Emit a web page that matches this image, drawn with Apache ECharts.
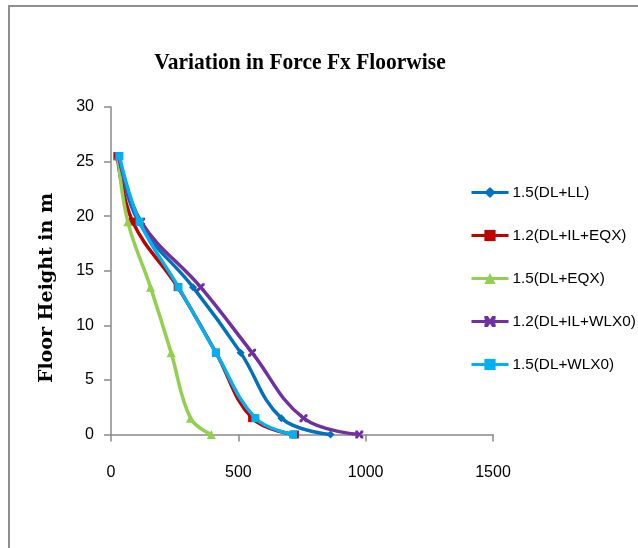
<!DOCTYPE html>
<html>
<head>
<meta charset="utf-8">
<script src="https://cdn.jsdelivr.net/npm/echarts@6/dist/echarts.min.js"></script>
<style>
html,body{margin:0;padding:0;background:#fff;}
#chart{width:638px;height:548px;}
</style>
</head>
<body>
<div id="chart"></div>
<script>
// Floor heights (m)
const floorHeights = [25.5, 19.5, 13.5, 7.5, 1.5, 0];
// Force Fx per load combination
const seriesNames = ['1.5(DL+LL)', '1.2(DL+IL+EQX)', '1.5(DL+EQX)', '1.2(DL+IL+WLX0)', '1.5(DL+WLX0)'];
const fxDlLl = [28, 108, 322, 509, 669, 862];
const fxDlIlEqx = [25, 85, 262, 412, 554, 722];
const fxDlEqx = [28, 66, 155, 236, 312, 394];
const fxDlIlWlx = [30, 118, 352, 554, 756, 975];
const fxDlWlx = [33, 112, 265, 412, 567, 715];
const xTicks = [0, 500, 1000, 1500];
const yTicks = [0, 5, 10, 15, 20, 25, 30];

const colors = ['#0070C0', '#C00000', '#92D050', '#7030A0', '#00B0F0'];
const symbols = ['diamond', 'rect', 'triangle',
  'path://M0,0 L3,0 L5,3 L7,0 L10,0 L10,3 L7,5 L10,7 L10,10 L7,10 L5,7 L3,10 L0,10 L0,7 L3,5 L0,3 Z',
  'rect'];
const values = [fxDlLl, fxDlIlEqx, fxDlEqx, fxDlIlWlx, fxDlWlx];
const labelFont = '"Liberation Sans", Arial, sans-serif';

const series = values.map((arr, i) => ({
  name: seriesNames[i],
  type: 'line',
  smooth: 0.4,
  data: arr.map((v, j) => [v, floorHeights[j]]),
  symbol: symbols[i],
  symbolSize: i === 2 ? 9 : 8,
  lineStyle: { width: 3.5, color: colors[i] },
  itemStyle: { color: colors[i] },
  z: 2 + i
}));

const chart = echarts.init(document.getElementById('chart'), null, { renderer: 'canvas' });
chart.setOption({
  animation: false,
  backgroundColor: '#fff',
  color: colors,
  graphic: [
    { type: 'rect', shape: { x: 9, y: 6, width: 700, height: 600 }, style: { fill: 'none', stroke: '#8f8f8f', lineWidth: 2 }, silent: true },
    { type: 'text', x: 300, y: 63, scaleX: 0.935, originX: 0, originY: 0,
      style: { text: 'Variation in Force Fx Floorwise', font: 'bold 23px "Liberation Serif", "Times New Roman", serif', fill: '#000', align: 'center', verticalAlign: 'middle' } },
    { type: 'text', x: 47, y: 288, rotation: Math.PI / 2, originX: 0, originY: 0,
      style: { text: 'Floor Height in m', font: 'bold 19px "DejaVu Serif", serif', fill: '#000', align: 'center', verticalAlign: 'middle' } }
  ],
  grid: { left: 111, right: 145, top: 107, bottom: 113.5, containLabel: false },
  legend: {
    orient: 'vertical', left: 470, top: 185, padding: 0,
    itemWidth: 37, itemHeight: 14, itemGap: 28,
    lineStyle: { width: 3 },
    textStyle: { fontFamily: labelFont, fontSize: 15.3, lineHeight: 14, color: '#000', padding: [0, 0, 0, -1] },
    data: seriesNames
  },
  xAxis: {
    type: 'value', min: xTicks[0], max: xTicks[xTicks.length - 1], interval: 500,
    axisLine: { show: true, lineStyle: { color: '#8a8a8a', width: 1.5 } },
    axisTick: { show: true, inside: false, length: 7, lineStyle: { color: '#8a8a8a', width: 1.5 } },
    axisLabel: { margin: 30, color: '#000', fontSize: 16, fontFamily: labelFont, formatter: v => String(v) },
    splitLine: { show: false }
  },
  yAxis: {
    type: 'value', min: yTicks[0], max: yTicks[yTicks.length - 1], interval: 5,
    axisLine: { show: true, lineStyle: { color: '#8a8a8a', width: 1.5 } },
    axisTick: { show: true, inside: false, length: 7, lineStyle: { color: '#8a8a8a', width: 1.5 } },
    axisLabel: { margin: 17, color: '#000', fontSize: 16, fontFamily: labelFont, formatter: v => String(v) },
    splitLine: { show: false }
  },
  series: series
});
</script>
</body>
</html>
